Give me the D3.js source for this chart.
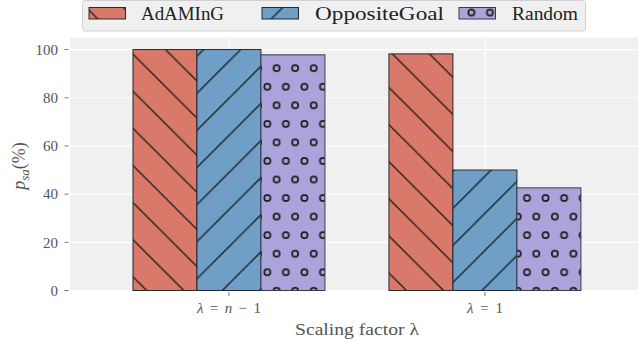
<!DOCTYPE html>
<html><head><meta charset="utf-8">
<script src="https://cdn.jsdelivr.net/npm/d3@7"></script>
<style>body{margin:0;background:#fff}svg{display:block}
svg text{font-family:"Liberation Serif","DejaVu Serif","Times New Roman",serif}</style>
</head><body>
<script>
const categories = ["λ = n − 1", "λ = 1"];
const seriesNames = ["AdAMInG", "OppositeGoal", "Random"];
const adaming = [100, 98.2];
const oppositeGoal = [100, 50];
const random = [97.8, 42.6];
const yTicks = [0, 20, 40, 60, 80, 100];

(function () {
const values = [adaming, oppositeGoal, random];
const colors = ["#d97969", "#6f9fc6", "#aba4da"];
const edge = ["#2a2a2a", "#1f2a35", "#3a3a4a"];
const W = 639, H = 348;
const svg = d3.select("body").append("svg").attr("width", W).attr("height", H);

const pL = 70, pR = 638, pT = 37.5, pB = 290.5;
const x = d3.scaleLinear().domain([-0.621, 1.598]).range([pL, pR]);
const y = d3.scaleLinear().domain([0, 105]).range([pB, pT]);
const bw = 0.25;

// patterns
const defs = svg.append("defs");
const sp = 37.1;
const p1 = defs.append("pattern").attr("id", "hatch0").attr("patternUnits", "userSpaceOnUse")
  .attr("width", sp).attr("height", sp).attr("x", 4.6).attr("y", 0);
p1.append("path").attr("d", `M${-sp/2},${-sp/2}L${sp*1.5},${sp*1.5}M${-sp/2},${sp/2}L${sp/2},${sp*1.5}M${sp/2},${-sp/2}L${sp*1.5},${sp/2}`)
  .attr("stroke", "#1c1c1c").attr("stroke-width", 1.35);
const p2 = defs.append("pattern").attr("id", "hatch1").attr("patternUnits", "userSpaceOnUse")
  .attr("width", sp).attr("height", sp).attr("x", 30.5).attr("y", 0);
p2.append("path").attr("d", `M${-sp/2},${sp*1.5}L${sp*1.5},${-sp/2}M${-sp/2},${sp/2}L${sp/2},${-sp/2}M${sp/2},${sp*1.5}L${sp*1.5},${sp/2}`)
  .attr("stroke", "#1c1c1c").attr("stroke-width", 1.35);
const cw = sp / 2, ch = sp;
const p3 = defs.append("pattern").attr("id", "hatch2").attr("patternUnits", "userSpaceOnUse")
  .attr("width", cw).attr("height", ch).attr("x", 16.9).attr("y", 31.1);
[[0,0],[cw,0],[cw/2,ch/2],[0,ch],[cw,ch]].forEach(([cx,cy]) => {
  p3.append("circle").attr("cx", cx).attr("cy", cy).attr("r", 3.1)
    .attr("fill", "none").attr("stroke", "#1c1c1c").attr("stroke-width", 1.7);
});

// background
svg.append("rect").attr("x", pL).attr("y", pT).attr("width", pR - pL).attr("height", pB - pT).attr("fill", "#f0f0f0");

// grid
svg.append("g").selectAll("line").data(yTicks).join("line")
  .attr("x1", pL).attr("x2", pR).attr("y1", d => y(d)).attr("y2", d => y(d))
  .attr("stroke", "#fff").attr("stroke-width", 1.2);
svg.append("g").selectAll("line").data(categories).join("line")
  .attr("x1", (d, i) => x(i)).attr("x2", (d, i) => x(i)).attr("y1", pT).attr("y2", pB)
  .attr("stroke", "#fff").attr("stroke-width", 1.2);

// bars
seriesNames.forEach((s, si) => {
  const g = svg.append("g");
  const data = values[si];
  const bx = i => x(i + (si - 1) * bw - bw / 2);
  g.selectAll("rect.f").data(data).join("rect")
    .attr("x", (d, i) => bx(i)).attr("width", x(bw) - x(0))
    .attr("y", d => y(d)).attr("height", d => y(0) - y(d))
    .attr("fill", colors[si]);
  g.selectAll("rect.h").data(data).join("rect")
    .attr("x", (d, i) => bx(i)).attr("width", x(bw) - x(0))
    .attr("y", d => y(d)).attr("height", d => y(0) - y(d))
    .attr("fill", `url(#hatch${si})`).attr("stroke", edge[si]).attr("stroke-width", 1);
});

// y axis
const ya = svg.append("g");
yTicks.forEach(t => {
  ya.append("line").attr("x1", pL - 5.5).attr("x2", pL - 1.5).attr("y1", y(t)).attr("y2", y(t)).attr("stroke", "#666").attr("stroke-width", 0.9);
  ya.append("text").attr("x", pL - 12).attr("y", y(t)).attr("dy", "0.35em").attr("text-anchor", "end")
    .attr("font-size", 15).attr("fill", "#555").text(t);
});
// x axis
categories.forEach((c, i) => {
  svg.append("line").attr("x1", x(i)).attr("x2", x(i)).attr("y1", pB + 1.5).attr("y2", pB + 5.5).attr("stroke", "#666").attr("stroke-width", 0.9);
});
const xt0 = svg.append("text").attr("x", x(0)).attr("y", 313).attr("text-anchor", "middle")
  .attr("font-size", 15).attr("fill", "#555").attr("textLength", 64).attr("lengthAdjust", "spacing");
xt0.append("tspan").attr("font-style", "italic").text("λ");
xt0.append("tspan").text(" = ");
xt0.append("tspan").attr("font-style", "italic").text("n");
xt0.append("tspan").text(" − 1");
const xt1 = svg.append("text").attr("x", x(1)).attr("y", 313).attr("text-anchor", "middle")
  .attr("font-size", 15).attr("fill", "#555").attr("textLength", 36).attr("lengthAdjust", "spacing");
xt1.append("tspan").attr("font-style", "italic").text("λ");
xt1.append("tspan").text(" = 1");

svg.append("text").attr("x", 357).attr("y", 335).attr("text-anchor", "middle")
  .attr("font-size", 17.5).attr("fill", "#555")
  .attr("textLength", 124).attr("lengthAdjust", "spacingAndGlyphs").text("Scaling factor λ");

const yl = svg.append("text").attr("transform", "translate(25,166) rotate(-90)").attr("text-anchor", "middle")
  .attr("font-size", 18).attr("fill", "#555");
yl.append("tspan").attr("font-style", "italic").text("p");
yl.append("tspan").attr("font-style", "italic").attr("font-size", 13).attr("dy", 4).text("sa");
yl.append("tspan").attr("dy", -4).text("(%)");

// legend
svg.append("rect").attr("x", 82.5).attr("y", 0.5).attr("width", 503).attr("height", 30.5).attr("rx", 3)
  .attr("fill", "#f0f0f0").attr("stroke", "#d0d0d0").attr("stroke-width", 1);
const lx = [89, 262, 459];
const tx = [141, 315, 512];
const tw = [83, 129, 66];
seriesNames.forEach((s, si) => {
  svg.append("rect").attr("x", lx[si]).attr("y", 7.5).attr("width", 36.5).attr("height", 11.5).attr("fill", colors[si]);
  svg.append("rect").attr("x", lx[si]).attr("y", 7.5).attr("width", 36.5).attr("height", 11.5)
    .attr("fill", `url(#hatch${si})`).attr("stroke", edge[si]).attr("stroke-width", 1);
  svg.append("text").attr("x", tx[si]).attr("y", 20).attr("font-size", 18)
    .attr("fill", "#222").attr("textLength", tw[si]).attr("lengthAdjust", "spacingAndGlyphs").text(s);
});
})();
</script>
</body></html>
